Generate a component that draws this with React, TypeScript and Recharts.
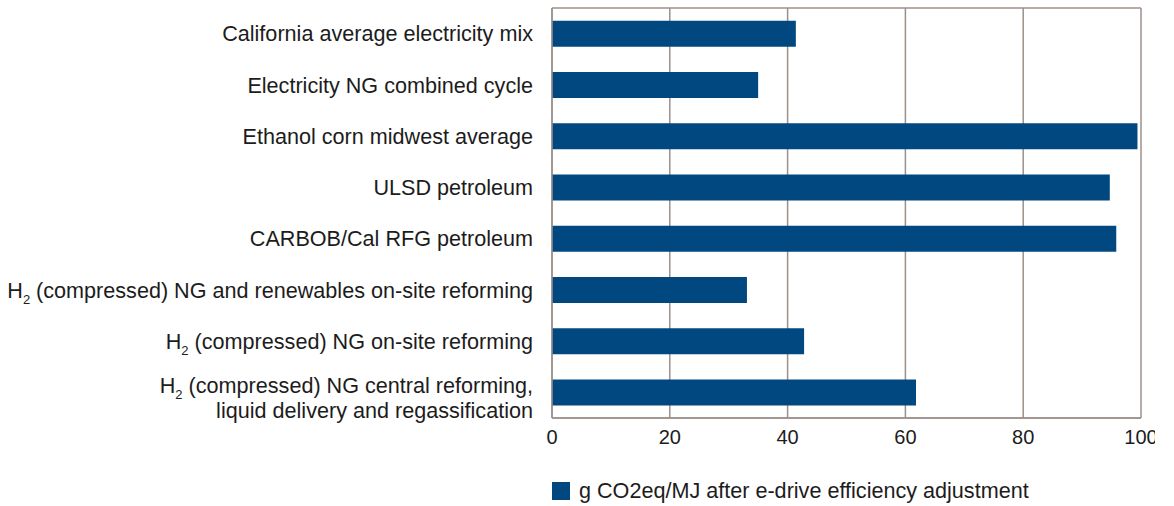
import * as React from "react";
import {
  Bar,
  BarChart,
  CartesianGrid,
  Legend,
  XAxis,
  YAxis,
} from "recharts";

const categories = [
  "California average electricity mix",
  "Electricity NG combined cycle",
  "Ethanol corn midwest average",
  "ULSD petroleum",
  "CARBOB/Cal RFG petroleum",
  "H2 (compressed) NG and renewables on-site reforming",
  "H2 (compressed) NG on-site reforming",
  "H2 (compressed) NG central reforming,\nliquid delivery and regassification",
];

const emissions = [41.4, 35.0, 99.4, 94.7, 95.8, 33.1, 42.8, 61.8];

const xTicks = [0, 20, 40, 60, 80, 100];

const seriesName = "g CO2eq/MJ after e-drive efficiency adjustment";

const BLUE = "#014880";
const GRID = "#9c908b";
const TEXT = "#1c1c1c";
const FONT = "'Liberation Sans', Arial, Helvetica, sans-serif";
const LABEL_SIZE = 21.6;

const data = categories.map((name, i) => ({ name, value: emissions[i] }));

// renders "H2" with a subscript 2
function renderLine(line: string) {
  if (line.startsWith("H2 ")) {
    return (
      <>
        <tspan>H</tspan>
        <tspan dy={6} fontSize={13}>2</tspan>
        <tspan dy={-6}>{line.slice(2)}</tspan>
      </>
    );
  }
  return line;
}

function CategoryTick(props: any) {
  const { x, y, payload } = props;
  const lines = String(payload.value).split("\n");
  if (lines.length === 1) {
    return (
      <text x={x} y={y} dy="0.355em" textAnchor="end" fill={TEXT} fontSize={LABEL_SIZE} fontFamily={FONT}>
        {renderLine(lines[0])}
      </text>
    );
  }
  return (
    <g>
      <text x={x} y={y - 7} dy="0.355em" textAnchor="end" fill={TEXT} fontSize={LABEL_SIZE} fontFamily={FONT}>
        {renderLine(lines[0])}
      </text>
      <text x={x} y={y + 18} dy="0.355em" textAnchor="end" fill={TEXT} fontSize={LABEL_SIZE} fontFamily={FONT}>
        {renderLine(lines[1])}
      </text>
    </g>
  );
}

function LegendContent() {
  return (
    <div style={{ display: "flex", alignItems: "center", paddingLeft: 552, paddingTop: 20 }}>
      <span style={{ width: 18, height: 18, background: BLUE, display: "inline-block", marginRight: 9 }} />
      <span style={{ fontFamily: FONT, fontSize: LABEL_SIZE, color: TEXT }}>{seriesName}</span>
    </div>
  );
}

export default function App() {
  return (
    <div style={{ position: "absolute", left: 0, top: 0, width: 1155, height: 506, overflow: "hidden", background: "#fff" }}>
      <BarChart
        width={1174}
        height={506}
        data={data}
        layout="vertical"
        barCategoryGap="25%"
        margin={{ top: 8, right: 33, left: 0, bottom: 0 }}
      >
        <CartesianGrid
          stroke={GRID}
          strokeWidth={1.5}
          horizontalCoordinatesGenerator={({ offset }: any) => [offset.top, offset.top + offset.height]}
        />
        <XAxis
          type="number"
          domain={[0, 100]}
          ticks={xTicks}
          height={40}
          axisLine={{ stroke: GRID, strokeWidth: 1.5 }}
          tickLine={false}
          tickMargin={6}
          tick={{ fill: TEXT, fontSize: 20, fontFamily: FONT }}
        />
        <YAxis
          type="category"
          dataKey="name"
          width={552}
          axisLine={{ stroke: GRID, strokeWidth: 1.5 }}
          tickLine={false}
          tickMargin={13}
          tick={<CategoryTick />}
          interval={0}
        />
        <Legend verticalAlign="bottom" height={48} content={<LegendContent />} />
        <Bar dataKey="value" name={seriesName} fill={BLUE} isAnimationActive={false} />
      </BarChart>
    </div>
  );
}
